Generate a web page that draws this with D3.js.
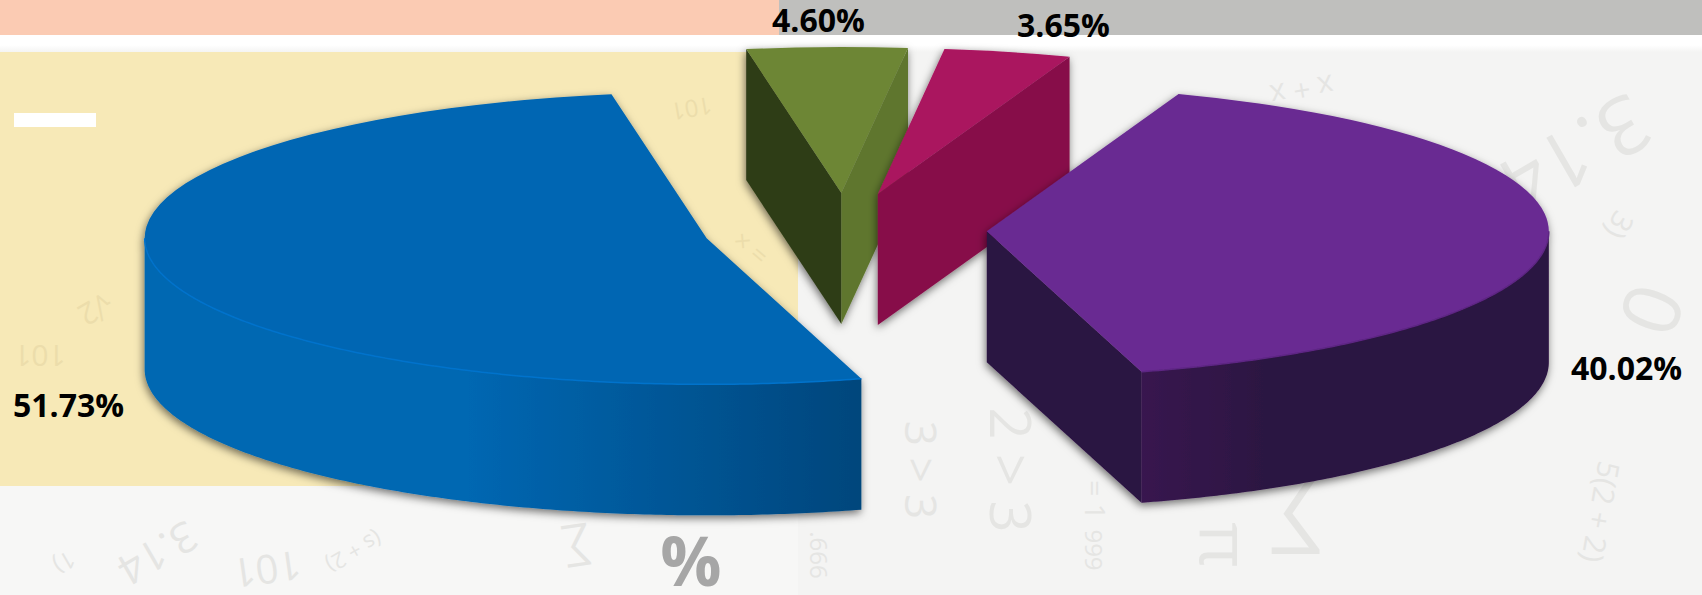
<!DOCTYPE html>
<html>
<head>
<meta charset="utf-8">
<title>Exploded 3D pie</title>
<script src="https://cdn.jsdelivr.net/npm/d3@7"></script>
<style>
html, body { margin: 0; padding: 0; background: #f4f4f3; overflow: hidden; }
text { font-family: "Open Sans", sans-serif; }
</style>
</head>
<body>
<div id="chart"></div>
<script>
// Chart data, in drawing order round the pie (clockwise)
const sliceLabels = ['40.02%', '51.73%', '4.60%', '3.65%'];
const sliceValues = [40.02, 51.73, 4.60, 3.65];

// Colours per slice
const topColors = ['#692b92', '#0066b3', '#6d8636', '#aa135f'];
const startFaceColors = ['#2c1242', '#0066b3', '#2f3c18', '#87104a'];
const endFaceColors = ['#2c1242', '#0066b3', '#5f762d', '#87104a'];
const rimColors = ['#5d2583', '#0073cc', '#6d8636', '#aa135f'];
const wallStops = [
    [['0', '#38184f'], ['0.3', '#2c1242'], ['1', '#2c1242']],
    [['0', '#00467c'], ['0.55', '#0067b2'], ['1', '#0067b2']],
    [['0', '#5f762d'], ['1', '#5f762d']],
    [['0', '#87104a'], ['1', '#87104a']]
];

// Which order the slices are painted in (later ones cover earlier ones)
const paintOrder = [1, 2, 3, 0];

// Label anchors (left, baseline)
const labelX = [1571, 13, 772, 1017];
const labelY = [380, 417, 32, 37];

// Faint formula watermark on the background
const watermarks = [
    ['3.14', 150, 540, 150, 42], ['101', 265, 555, 172, 40], ['(s + 2)', 350, 545, 150, 22],
    ['1)', 60, 555, 150, 24], ['∑', 575, 535, 172, 44], ['101', 40, 345, 180, 30],
    ['√2', 90, 300, 150, 30], ['101', 690, 100, 170, 24], ['.666', 810, 555, 90, 24],
    ['2 > 3', 990, 470, 90, 56], ['3 > 3', 905, 470, 90, 44], ['= 1', 1085, 500, 90, 28],
    ['∑', 1295, 490, 180, 90], ['π', 1200, 545, 90, 70], ['5(2 + 2)', 1590, 510, 100, 30],
    ['999', 1085, 550, 90, 24], ['3.14', 1560, 130, 150, 80], ['x + x', 1300, 80, 170, 30],
    ['0', 1625, 300, 110, 80], ['3)', 1610, 220, 120, 30], ['× =', 745, 255, 40, 26]
];

const width = 1702;
const height = 595;

// Projection of the tilted pie
const pieCenter = [845, 230];
const radius = 562;
const tilt = 0.26;
const depth = 131;
const explode = 0.2525;
const startAngle = 19.95 * Math.PI / 180;

const svg = d3.select('#chart')
    .append('svg')
    .attr('width', width)
    .attr('height', height)
    .style('display', 'block');

const defs = svg.append('defs');

const shadow = defs.append('filter')
    .attr('id', 'shadow')
    .attr('x', '-10%').attr('y', '-10%')
    .attr('width', '120%').attr('height', '125%');
shadow.append('feDropShadow')
    .attr('dx', -1).attr('dy', 3)
    .attr('stdDeviation', 4)
    .attr('flood-color', '#000')
    .attr('flood-opacity', 0.55);

const fadeStrip = defs.append('linearGradient')
    .attr('id', 'fadeStrip')
    .attr('x1', 0).attr('x2', 0).attr('y1', 0).attr('y2', 1);
fadeStrip.append('stop').attr('offset', 0).attr('stop-color', '#ffffff');
fadeStrip.append('stop').attr('offset', 0.6).attr('stop-color', '#ffffff');
fadeStrip.append('stop').attr('offset', 1).attr('stop-color', '#f4f4f3');

// ---- background ----
const bg = svg.append('g');
bg.append('rect').attr('width', width).attr('height', height).attr('fill', '#f4f4f3');
bg.append('rect').attr('y', 486).attr('width', 798).attr('height', 109).attr('fill', '#f7f7f6');
bg.append('rect').attr('y', 50).attr('width', 798).attr('height', 436).attr('fill', '#f7e9b7');

bg.selectAll('text.mark')
    .data(watermarks)
    .enter()
    .append('text')
    .attr('class', 'mark')
    .attr('transform', d => `translate(${d[1]},${d[2]}) rotate(${d[3]})`)
    .attr('text-anchor', 'middle')
    .style('font-size', d => `${d[4]}px`)
    .attr('fill', d => (d[1] < 798 && d[2] < 486) ? '#ecddab' : '#e5e5e3')
    .text(d => d[0]);

bg.append('rect').attr('y', 35).attr('width', width).attr('height', 17).attr('fill', 'url(#fadeStrip)');
bg.append('rect').attr('width', 779).attr('height', 35).attr('fill', '#fbcbb3');
bg.append('rect').attr('x', 779).attr('width', width - 779).attr('height', 35).attr('fill', '#bfbfbd');
bg.append('rect').attr('x', 14).attr('y', 113).attr('width', 82).attr('height', 14).attr('fill', '#ffffff');

// ---- slices ----
const pie = d3.pie().sort(null).startAngle(startAngle).endAngle(startAngle + 2 * Math.PI);
const arcs = pie(sliceValues);

const arc = d3.arc().innerRadius(0).outerRadius(radius);
const line = d3.line();

// Screen centre of an exploded slice
function sliceCenter(d) {
    const mid = (d.startAngle + d.endAngle) / 2;
    return [
        pieCenter[0] + radius * explode * Math.sin(mid),
        pieCenter[1] - radius * explode * Math.cos(mid) * tilt
    ];
}

function rimPoint(c, a, drop) {
    return [c[0] + radius * Math.sin(a), c[1] - radius * tilt * Math.cos(a) + drop];
}

// Radial cut face at angle a, extruded downwards
function facePath(c, a) {
    const p = rimPoint(c, a, 0);
    return line([c, p, [p[0], p[1] + depth], [c[0], c[1] + depth]]) + 'Z';
}

// Only the front half of the rim shows a wall
function frontRange(d) {
    const a0 = Math.max(d.startAngle, Math.PI / 2);
    const a1 = Math.min(d.endAngle, 3 * Math.PI / 2);
    return a1 > a0 ? d3.range(a0, a1, 0.01).concat(a1) : null;
}

paintOrder.forEach(i => {
    const d = arcs[i];
    const c = sliceCenter(d);
    const g = svg.append('g').attr('filter', 'url(#shadow)');

    // A cut face shows when its outward normal points at the viewer
    if (Math.cos(d.startAngle - Math.PI / 2) < 0) {
        g.append('path').attr('d', facePath(c, d.startAngle)).attr('fill', startFaceColors[i]);
    }
    if (Math.cos(d.endAngle + Math.PI / 2) < 0) {
        g.append('path').attr('d', facePath(c, d.endAngle)).attr('fill', endFaceColors[i]);
    }

    const angles = frontRange(d);
    if (angles) {
        const top = angles.map(a => rimPoint(c, a, 0));
        const bottom = angles.map(a => rimPoint(c, a, depth)).reverse();
        const xs = d3.extent(top, p => p[0]);
        const grad = defs.append('linearGradient')
            .attr('id', `wall${i}`)
            .attr('gradientUnits', 'userSpaceOnUse')
            .attr('x1', i === 1 ? xs[1] : xs[0]).attr('x2', i === 1 ? xs[0] : xs[1])
            .attr('y1', 0).attr('y2', 0);
        wallStops[i].forEach(s => grad.append('stop').attr('offset', s[0]).attr('stop-color', s[1]));
        g.append('path')
            .attr('d', line(top.concat(bottom)) + 'Z')
            .attr('fill', `url(#wall${i})`);
    }

    g.append('path')
        .attr('d', arc(d))
        .attr('transform', `translate(${c[0]},${c[1]}) scale(1,${tilt})`)
        .attr('fill', topColors[i]);

    if (angles) {
        g.append('path')
            .attr('d', line(angles.map(a => rimPoint(c, a, 0))))
            .attr('fill', 'none')
            .attr('stroke', rimColors[i])
            .attr('stroke-width', 1.5);
    }
});

// ---- labels ----
svg.selectAll('text.label')
    .data(sliceLabels)
    .enter()
    .append('text')
    .attr('class', 'label')
    .attr('x', (d, i) => labelX[i])
    .attr('y', (d, i) => labelY[i])
    .style('font-size', '32px')
    .style('font-weight', 700)
    .attr('fill', '#000')
    .text(d => d);

svg.append('text')
    .attr('x', 691)
    .attr('y', 586)
    .attr('text-anchor', 'middle')
    .style('font-size', '68px')
    .style('font-weight', 700)
    .attr('fill', '#a6a6a6')
    .text('%');
</script>
</body>
</html>
